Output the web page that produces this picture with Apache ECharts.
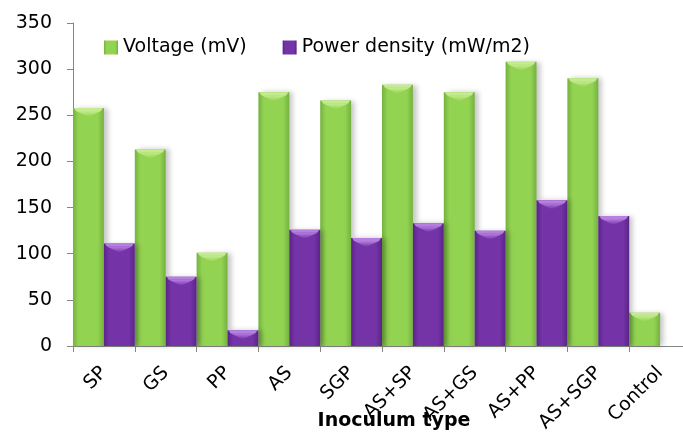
<!DOCTYPE html>
<html>
<head>
<meta charset="utf-8">
<script src="https://cdn.jsdelivr.net/npm/echarts@6/dist/echarts.min.js"></script>
<style>
  html, body { margin: 0; padding: 0; background: #fff; }
  #chart { width: 683px; height: 432px; }
</style>
</head>
<body>
<div id="chart"></div>
<script>
// Inoculum types on the category axis
const categories = ['SP', 'GS', 'PP', 'AS', 'SGP', 'AS+SP', 'AS+GS', 'AS+PP', 'AS+SGP', 'Control'];
// Voltage (mV) per inoculum
const voltage = [258, 213, 101, 275, 266, 283, 275, 308, 290, 36];
// Power density (mW/m2) per inoculum
const powerDensity = [111, 75, 17, 126, 117, 133, 125, 158, 141, 0];
// Value-axis ticks
const yTicks = { min: 0, max: 350, interval: 50 };

const FONT = 'DejaVu Sans';

function barGradient(edge, mid) {
  return new echarts.graphic.LinearGradient(0, 0, 1, 0, [
    { offset: 0, color: edge },
    { offset: 0.18, color: mid },
    { offset: 0.8, color: mid },
    { offset: 1, color: edge }
  ]);
}

// Bevelled cap drawn on top of each bar
function capRenderer(side, light, mid) {
  return function (params, api) {
    const v = api.value(1);
    if (!v) return null;
    const pt = api.coord([api.value(0), v]);
    const w = api.size([1, 0])[0] / 2;
    const x0 = side === 0 ? pt[0] - w : pt[0];
    const x1 = x0 + w;
    const y = pt[1];
    const depth = 9;
    return {
      type: 'group',
      children: [
        {
          type: 'polygon',
          shape: { points: [[x0 + 1, y], [x1 - 1, y], [x1 - 3, y + 3], [x0 + 3, y + 3]] },
          style: { fill: light }
        },
        {
          type: 'polygon',
          shape: { points: [[x0 + 3, y + 3], [x1 - 3, y + 3], [(x0 + x1) / 2, y + depth]] },
          style: {
            fill: new echarts.graphic.LinearGradient(0, 0, 0, 1, [
              { offset: 0, color: light },
              { offset: 1, color: mid }
            ])
          }
        }
      ]
    };
  };
}

const chart = echarts.init(document.getElementById('chart'), null, { renderer: 'canvas' });

chart.setOption({
  animation: false,
  backgroundColor: '#ffffff',
  textStyle: { fontFamily: FONT },
  grid: { left: 73, right: -8, top: 23, bottom: 86, containLabel: false, outerBoundsMode: 'none' },
  legend: {
    left: 99,
    top: 33,
    itemWidth: 14,
    itemHeight: 14,
    itemGap: 36,
    icon: 'rect',
    textStyle: { fontFamily: FONT, fontSize: 19, color: '#000' },
    data: ['Voltage (mV)', 'Power density (mW/m2)']
  },
  xAxis: {
    type: 'category',
    data: categories,
    boundaryGap: true,
    axisLine: { lineStyle: { color: '#868686', width: 1 } },
    axisTick: { show: true, length: 6, lineStyle: { color: '#868686' } },
    axisLabel: {
      interval: 0,
      rotate: 45,
      margin: 24,
      fontFamily: FONT,
      fontSize: 19,
      color: '#000'
    },
    name: 'Inoculum type',
    nameLocation: 'middle',
    nameGap: 66,
    nameMoveOverlap: false,
    nameTextStyle: {
      fontFamily: FONT,
      fontSize: 19,
      fontWeight: 'bold',
      color: '#000',
      padding: [0, 0, 0, 24]
    }
  },
  yAxis: {
    type: 'value',
    min: yTicks.min,
    max: yTicks.max,
    interval: yTicks.interval,
    axisLine: { show: true, lineStyle: { color: '#868686', width: 1 } },
    axisTick: { show: true, length: 6, lineStyle: { color: '#868686' } },
    splitLine: { show: false },
    axisLabel: { margin: 21, fontFamily: FONT, fontSize: 19, color: '#000' }
  },
  series: [
    {
      name: 'Voltage (mV)',
      type: 'bar',
      data: voltage,
      barGap: '0%',
      barCategoryGap: '0%',
      color: '#92d050',
      itemStyle: {
        color: barGradient('#74b23f', '#93d352'),
        shadowColor: 'rgba(0,0,0,0.22)',
        shadowBlur: 5,
        shadowOffsetX: 4,
        shadowOffsetY: 0
      }
    },
    {
      name: 'Power density (mW/m2)',
      type: 'bar',
      data: powerDensity,
      barGap: '0%',
      barCategoryGap: '0%',
      color: '#7030a0',
      itemStyle: {
        color: barGradient('#5a2487', '#7533a8'),
        shadowColor: 'rgba(0,0,0,0.22)',
        shadowBlur: 5,
        shadowOffsetX: 4,
        shadowOffsetY: 0
      }
    },
    {
      type: 'custom',
      silent: true,
      z: 5,
      renderItem: capRenderer(0, '#c4ec8e', '#93d352'),
      data: voltage.map((v, i) => [i, v])
    },
    {
      type: 'custom',
      silent: true,
      z: 5,
      renderItem: capRenderer(1, '#b67fe0', '#7533a8'),
      data: powerDensity.map((v, i) => [i, v])
    }
  ]
});
</script>
</body>
</html>
